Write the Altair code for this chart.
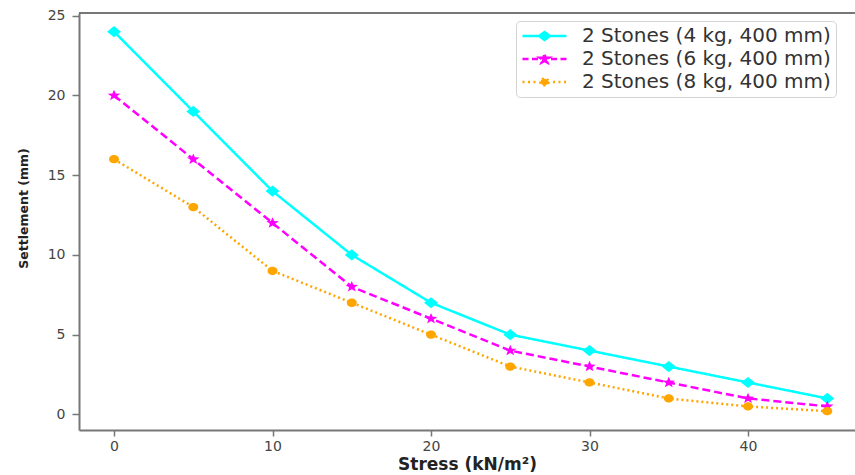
import math

import altair as alt
import pandas as pd

# ---- data -------------------------------------------------------------
stress = [0, 5, 10, 15, 20, 25, 30, 35, 40, 45]
settle_4kg = [24, 19, 14, 10, 7, 5, 4, 3, 2, 1]
settle_6kg = [20, 16, 12, 8, 6, 4, 3, 2, 1, 0.5]
settle_8kg = [16, 13, 9, 7, 5, 3, 2, 1, 0.5, 0.2]

series_names = [
    "2 Stones (4 kg, 400 mm)",
    "2 Stones (6 kg, 400 mm)",
    "2 Stones (8 kg, 400 mm)",
]
series_colors = ["#00FFFF", "#FF00FF", "#FFA500"]
series_dashes = [[1, 0], [8, 4], [2, 3]]

x_ticks = [0, 10, 20, 30, 40]
y_ticks = [0, 5, 10, 15, 20, 25]

rows = []
for name, values in zip(series_names, [settle_4kg, settle_6kg, settle_8kg]):
    for s, v in zip(stress, values):
        rows.append({"stress": s, "settlement": v, "series": name})
df = pd.DataFrame(rows)


# ---- marker geometry (SVG paths in symbol units) -------------------------
def _p(v):
    return f"{v:.3f}"


def poly_path(points, unit):
    return "M" + "L".join(f"{_p(x / unit)},{_p(y / unit)}" for x, y in points) + "Z"


def diamond_pts(hw, hh):
    return [(-hw, 0), (0, -hh), (hw, 0), (0, hh)]


def star_pts(r_out, r_in, sx=1.0):
    pts = []
    for k in range(10):
        r = r_out if k % 2 == 0 else r_in
        a = math.radians(-90 + 36 * k)
        pts.append((r * math.cos(a) * sx, r * math.sin(a)))
    return pts


def ellipse_pts(rx, ry, n=18):
    return [(rx * math.cos(2 * math.pi * k / n), ry * math.sin(2 * math.pi * k / n)) for k in range(n)]


def seg_path(intervals, unit):
    return "".join(f"M{_p(a / unit)},0L{_p(b / unit)},0" for a, b in intervals)


# plot markers: unit of 8 px -> size 256
MK = 8.0
MK_SIZE = (2 * MK) ** 2
marker_paths = [
    poly_path(diamond_pts(7.0, 5.6), MK),
    poly_path(star_pts(5.8, 2.4, 1.15), MK),
    poly_path(ellipse_pts(5.0, 4.2), MK),
]

# legend handles: a 44 px line with the marker in the middle
LU = 22.0
LEG_SIZE = (2 * LU) ** 2
legend_paths = [
    seg_path([(-22, 22)], LU)
    + poly_path(diamond_pts(5.4, 4.0), LU)
    + poly_path(diamond_pts(2.4, 1.6), LU),
    seg_path([(-22, -16), (-12.5, -6.5), (6.5, 12.5), (16, 22)], LU)
    + poly_path(star_pts(4.3, 1.8, 1.15), LU)
    + poly_path(star_pts(1.6, 0.8, 1.15), LU),
    seg_path([(-22, -19.5), (-16.5, -14), (-11, -8.5), (8.5, 11), (14, 16.5), (19.5, 22)], LU)
    + poly_path(ellipse_pts(4.2, 3.3), LU)
    + poly_path(ellipse_pts(1.6, 1.0), LU),
]

# ---- scales / axes / legend ------------------------------------------------
PLOT_W, PLOT_H = 776, 417
x_scale = alt.Scale(domain=[-2.21, 46.75], nice=False, zero=False)
y_scale = alt.Scale(domain=[-0.98, 25.17], nice=False, zero=False)
color_scale = alt.Scale(domain=series_names, range=series_colors)

SPINE = "#777777"
FONT = "DejaVu Sans"

x_axis = alt.Axis(
    values=x_ticks, format="d", grid=False,
    title="Stress (kN/m²)", titleFont=FONT, titleFontSize=17, titleFontWeight="bold",
    titleColor="#222222", titlePadding=3,
    labelFont=FONT, labelFontSize=14, labelColor="#444444", labelPadding=3,
    tickSize=6, tickColor=SPINE, tickWidth=1.5,
    domainColor=SPINE, domainWidth=2,
)
y_axis = alt.Axis(
    values=y_ticks, format="d", grid=False,
    title="Settlement (mm)", titleFont=FONT, titleFontSize=12.5, titleFontWeight="bold",
    titleColor="#222222", titleAngle=270, titleAlign="center", titleBaseline="middle",
    titleX=-56, titleY=195,
    labelFont=FONT, labelFontSize=14, labelColor="#444444", labelPadding=7,
    tickSize=7, tickColor=SPINE, tickWidth=1.5,
    domainColor=SPINE, domainWidth=2,
)

legend_kw = dict(
    orient="none", legendX=437, legendY=8, title=None,
    labelFont=FONT, labelFontSize=20, labelColor="#333333", labelOffset=14,
    labelLimit=500,
    symbolSize=LEG_SIZE, symbolStrokeWidth=2.5, symbolOpacity=1,
    clipHeight=20, rowPadding=3, padding=5,
    strokeColor="#d4d4d4", fillColor="white", cornerRadius=4,
)


def pos():
    # every layer carries the same axis definitions so the shared axes merge
    return dict(
        x=alt.X("stress:Q", scale=x_scale, axis=x_axis),
        y=alt.Y("settlement:Q", scale=y_scale, axis=y_axis),
    )


def color_enc():
    return alt.Color("series:N", scale=color_scale, legend=alt.Legend(**legend_kw))


base = alt.Chart(df)

lines = base.mark_line(strokeWidth=2.5).encode(
    **pos(),
    color=color_enc(),
    strokeDash=alt.StrokeDash(
        "series:N", scale=alt.Scale(domain=series_names, range=series_dashes), legend=None
    ),
)

point_layers = []
for name, path in zip(series_names, marker_paths):
    point_layers.append(
        base.transform_filter(alt.datum.series == name)
        .mark_point(filled=True, shape=path, size=MK_SIZE, opacity=1, strokeWidth=0)
        .encode(**pos(), color=color_enc())
    )

# legend-only layer: draws no marks, supplies the line+marker handles
legend_layer = (
    base.transform_filter("false")
    .mark_point(filled=False, opacity=1, strokeWidth=2.5)
    .encode(
        **pos(),
        color=color_enc(),
        shape=alt.Shape(
            "series:N",
            scale=alt.Scale(domain=series_names, range=legend_paths),
            legend=alt.Legend(**legend_kw),
        ),
    )
)

# top frame line of the axes box
top_frame = base.mark_rule(color=SPINE, strokeWidth=2).encode(
    x=alt.value(0), x2=alt.value(PLOT_W), y=alt.value(0)
)

chart = (
    alt.layer(lines, *point_layers, legend_layer, top_frame)
    .properties(
        width=PLOT_W,
        height=PLOT_H,
        padding={"left": 79, "top": 13, "right": 0, "bottom": 45},
        autosize=alt.AutoSizeParams(type="none"),
    )
    .configure(font=FONT)
    .configure_view(stroke=None)
)

chart.save("out.html", embed_options={"renderer": "svg", "actions": False})
